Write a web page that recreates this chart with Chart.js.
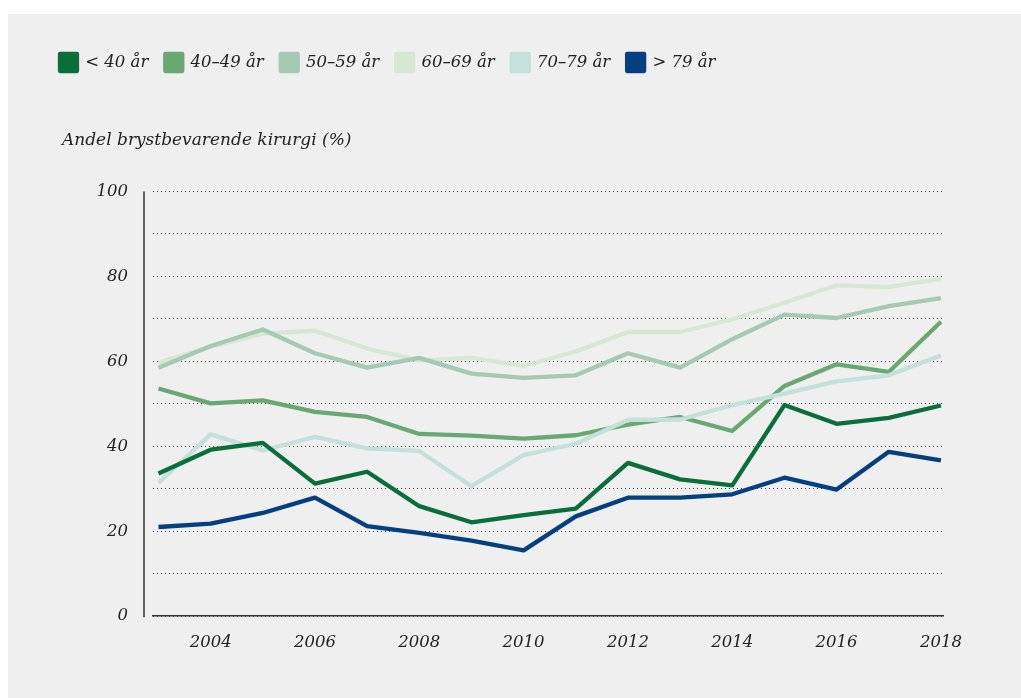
<!DOCTYPE html>
<html>
<head>
<meta charset="utf-8">
<script src="https://cdn.jsdelivr.net/npm/chart.js@4/dist/chart.umd.min.js"></script>
<style>
  html, body { margin: 0; padding: 0; background: #ffffff; }
  #wrap { position: absolute; left: 8px; top: 14px; width: 1013px; height: 684px; background: #efefef; }
  canvas { display: block; }
</style>
</head>
<body>
<div id="wrap"><canvas id="c" width="1013" height="684"></canvas></div>
<script>
const years = [2003, 2004, 2005, 2006, 2007, 2008, 2009, 2010, 2011, 2012, 2013, 2014, 2015, 2016, 2017, 2018];
const seriesNames = ['< 40 år', '40–49 år', '50–59 år', '60–69 år', '70–79 år', '> 79 år'];
const under40 = [33.6, 39.2, 40.8, 31.2, 34.0, 25.9, 22.1, 23.8, 25.3, 36.1, 32.2, 30.8, 49.7, 45.3, 46.7, 49.6];
const age40to49 = [53.6, 50.1, 50.8, 48.1, 46.9, 42.9, 42.5, 41.8, 42.6, 45.1, 46.9, 43.6, 54.2, 59.3, 57.5, 69.3];
const age50to59 = [58.5, 63.6, 67.5, 61.9, 58.5, 60.8, 57.1, 56.1, 56.7, 61.9, 58.5, 65.2, 71.0, 70.2, 73.0, 74.9];
const age60to69 = [59.7, 63.4, 66.5, 67.2, 63.0, 60.2, 60.8, 58.9, 62.3, 66.9, 66.9, 69.9, 73.8, 77.9, 77.5, 79.4];
const age70to79 = [31.4, 42.8, 39.0, 42.2, 39.5, 38.9, 30.6, 37.9, 40.6, 46.2, 46.3, 49.7, 52.4, 55.3, 56.7, 61.4];
const over79 = [21.0, 21.8, 24.3, 27.9, 21.2, 19.6, 17.8, 15.5, 23.5, 27.9, 27.9, 28.7, 32.6, 29.8, 38.7, 36.7];
const xTickLabels = [2004, 2006, 2008, 2010, 2012, 2014, 2016, 2018];
const yTickLabels = [0, 20, 40, 60, 80, 100];
const caption = 'Andel brystbevarende kirurgi (%)';

const seriesValues = [under40, age40to49, age50to59, age60to69, age70to79, over79];
const colors = ['#0a6e3b', '#6aa872', '#a4cab3', '#d7e8d2', '#c4e0db', '#043f7f'];
const drawOrder = [1, 4, 5, 6, 3, 2];

const FONT = "'DejaVu Serif', serif";

const axisLinePlugin = {
  id: 'axisLine',
  afterLayout(chart) {
    if (chart.titleBlock) {
      chart.titleBlock.left = chart.chartArea.left - 91;
    }
  },
  beforeDatasetsDraw(chart) {
    const {ctx, chartArea} = chart;
    ctx.save();
    ctx.strokeStyle = '#333333';
    ctx.lineWidth = 1.5;
    ctx.beginPath();
    const x = chartArea.left - 9;
    ctx.moveTo(x, chartArea.top);
    ctx.lineTo(x, chartArea.bottom + 1);
    ctx.stroke();
    ctx.restore();
  }
};

new Chart(document.getElementById('c'), {
  type: 'line',
  data: {
    datasets: seriesNames.map((name, i) => ({
      label: name,
      data: years.map((y, j) => ({x: y, y: seriesValues[i][j]})),
      borderColor: colors[i],
      backgroundColor: colors[i],
      borderWidth: 4.3,
      pointRadius: 0,
      tension: 0,
      order: drawOrder[i],
      borderJoinStyle: 'round'
    }))
  },
  options: {
    responsive: false,
    animation: false,
    layout: { padding: { left: 35, right: 78, top: 23, bottom: 28 } },
    plugins: {
      tooltip: { enabled: false },
      legend: {
        position: 'top',
        align: 'start',
        weight: 3000,
        labels: {
          boxWidth: 17,
          boxHeight: 17,
          padding: 17,
          color: '#222222',
          font: { family: FONT, style: 'italic', size: 16.5 },
          sort: (a, b) => a.datasetIndex - b.datasetIndex
        }
      },
      title: {
        display: true,
        text: caption,
        align: 'start',
        color: '#222222',
        font: { family: FONT, style: 'italic', size: 17, weight: 'normal' },
        padding: { top: 49, bottom: 41 }
      }
    },
    scales: {
      x: {
        type: 'linear',
        min: 2002.895,
        max: 2018.04,
        afterBuildTicks: (scale) => { scale.ticks = xTickLabels.map(v => ({value: v})); },
        grid: { display: false, drawTicks: false },
        border: { display: true, color: '#333333', width: 1.5 },
        ticks: {
          padding: 17,
          color: '#222222',
          maxRotation: 0,
          autoSkip: false,
          font: { family: FONT, style: 'italic', size: 16.5 },
          callback: (v) => String(v)
        }
      },
      y: {
        min: 0,
        max: 100,
        afterFit: (scale) => { scale.width = 110; },
        grid: { color: '#3a3a3a', lineWidth: 1, drawTicks: false },
        border: { display: false, dash: [1, 3] },
        ticks: {
          stepSize: 10,
          padding: 25,
          color: '#222222',
          font: { family: FONT, style: 'italic', size: 16.5 },
          callback: (v) => yTickLabels.includes(v) ? String(v) : ''
        }
      }
    }
  },
  plugins: [axisLinePlugin]
});
</script>
</body>
</html>
